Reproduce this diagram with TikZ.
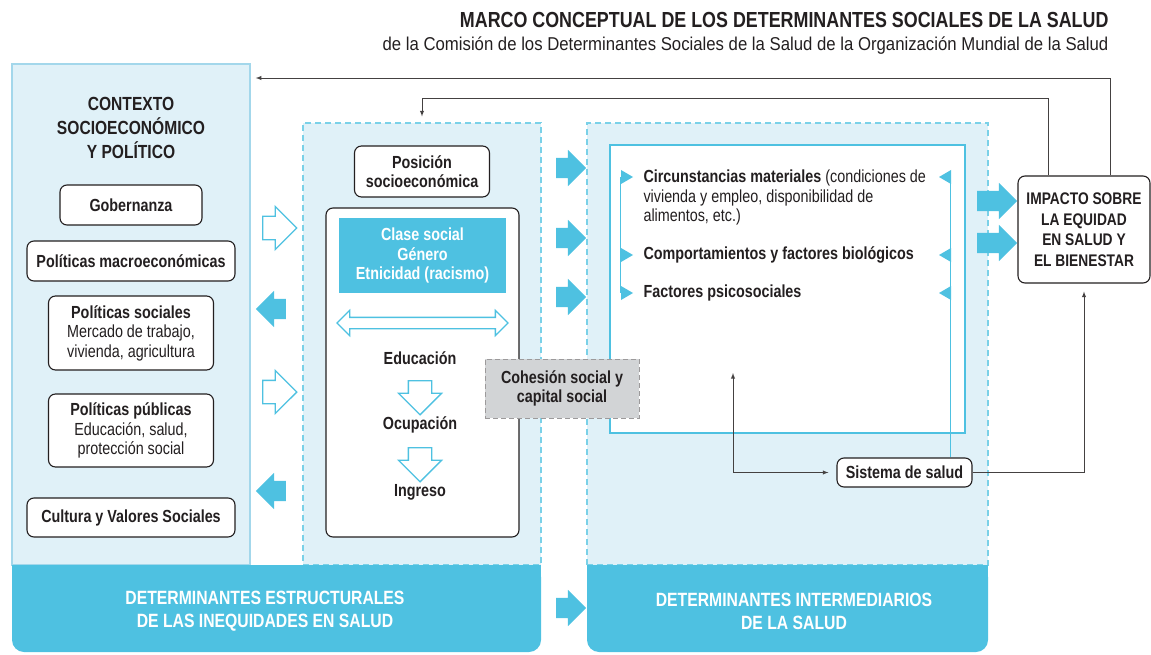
\documentclass[tikz,border=0pt]{standalone}
\usepackage{fontspec}
\setmainfont[FakeStretch=0.82]{Liberation Sans}
\newfontfamily\ancho[FakeStretch=0.9]{Liberation Sans}
\usetikzlibrary{shapes.arrows,positioning}
\definecolor{azul}{HTML}{4EC1E1}
\definecolor{celeste}{HTML}{E0F1F8}
\definecolor{bordeazul}{HTML}{A3D7EB}
\definecolor{gris}{HTML}{D2D4D6}
\definecolor{tinta}{HTML}{231F20}
\begin{document}
\begin{tikzpicture}[x=1pt,y=-1pt,
	every node/.append style={text=tinta},
	normal/.style={font=\fontsize{17.5}{19.5}\selectfont},
	negrita/.style={font=\fontsize{17.5}{19.5}\selectfont\bfseries},
	caja/.style={draw=tinta,fill=white,rounded corners=7pt,line width=1.1pt,align=center,inner sep=0pt},
	panel/.style={fill=celeste,draw=azul!75,dash pattern=on 6pt off 4pt,line width=1.1pt,inner sep=0pt},
	llena/.style={single arrow,fill=azul,inner xsep=0pt,inner ysep=10pt,minimum height=30,single arrow head extend=8},
	hueca/.style={single arrow,draw=azul,fill=white,line width=1.3pt,inner xsep=0pt,inner ysep=11pt,minimum height=34,single arrow head extend=10},
	baja/.style={single arrow,shape border rotate=270,draw=azul,fill=white,line width=1.3pt,inner xsep=11pt,inner ysep=0pt,minimum height=34,single arrow head extend=10},
	linea/.style={draw=tinta!85,line width=0.9pt},
	banda/.style={text=white,font=\fontsize{19.2}{23}\selectfont\bfseries,align=center}]
	\useasboundingbox (0,0) rectangle (1151,655);
	% Titulo
	\node[anchor=east,font=\fontsize{21.8}{24}\selectfont\bfseries] (titulo) at (1112,20) {MARCO CONCEPTUAL DE LOS DETERMINANTES SOCIALES DE LA SALUD};
	\node[anchor=east,font=\fontsize{18.6}{20}\ancho] (subtitulo) at (1112,46) {de la Comisión de los Determinantes Sociales de la Salud de la Organización Mundial de la Salud};
	% Paneles de fondo
	\node[fill=celeste,draw=bordeazul,line width=1.5pt,minimum width=238,minimum height=501,inner sep=0pt] (contexto) at (131,314.5) {};
	\node[panel,minimum width=238,minimum height=442] (estruct) at (422,344) {};
	\node[panel,minimum width=401,minimum height=442] (intermed) at (787.5,344) {};
	% Bandas inferiores
	\fill[azul,rounded corners=12pt] (12,565) rectangle (541,652);
	\fill[azul] (12,565) rectangle (541,600);
	\fill[azul,rounded corners=12pt] (587,565) rectangle (988,652);
	\fill[azul] (587,565) rectangle (988,600);
	\node[banda] (estructurales) at (265,611) {DETERMINANTES ESTRUCTURALES\\DE LAS INEQUIDADES EN SALUD};
	\node[banda] (intermediarios) at (794,611) {DETERMINANTES INTERMEDIARIOS\\DE LA SALUD};
	\node[llena] (paso) at (566,608) {};
	% Contexto socioeconomico y politico
	\node[font=\fontsize{19}{24}\selectfont\bfseries,align=center] (contextotit) at (131,128) {CONTEXTO\\SOCIOECONÓMICO\\Y POLÍTICO};
	\node[caja,negrita,minimum width=142,minimum height=40] (gobernanza) at (131,205) {Gobernanza};
	\node[caja,negrita,minimum width=208,minimum height=40] (macro) at (131,261) {Políticas macroeconómicas};
	\node[caja,normal,minimum width=165,minimum height=74] (sociales) at (131,333) {\textbf{Políticas sociales}\\Mercado de trabajo,\\vivienda, agricultura};
	\node[caja,normal,minimum width=165,minimum height=73] (publicas) at (131,430.5) {\textbf{Políticas públicas}\\Educación, salud,\\protección social};
	\node[caja,negrita,minimum width=208,minimum height=39] (cultura) at (131,517.5) {Cultura y Valores Sociales};
	% Flechas entre contexto y posicion
	\node[hueca] (ida1) at (274,228) {};
	\node[llena,shape border rotate=180] (vuelta1) at (276,309) {};
	\node[hueca] (ida2) at (274,392) {};
	\node[llena,shape border rotate=180] (vuelta2) at (276,491) {};
	% Posicion socioeconomica
	\node[caja,negrita,minimum width=135,minimum height=51] (posicion) at (422,171.5) {Posición\\socioeconómica};
	\node[caja,minimum width=193,minimum height=329] (grupo) at (422.5,372.5) {};
	\node[fill=azul,negrita,text=white,align=center,inner sep=0pt,minimum width=167,minimum height=75] (clase) at (422.5,255.5) {Clase social\\Género\\Etnicidad (racismo)};
	\node[double arrow,draw=azul,fill=white,line width=1.3pt,inner xsep=0pt,inner ysep=5pt,minimum height=171,double arrow head extend=7] (ejes) at (422.5,323) {};
	\node[negrita] (educacion) at (420,358) {Educación};
	\node[baja] (baja1) at (420,392) {};
	\node[negrita] (ocupacion) at (420,425) {Ocupación};
	\node[baja] (baja2) at (420,459) {};
	\node[negrita] (ingreso) at (420,492) {Ingreso};
	% Flechas hacia determinantes intermediarios
	\node[llena] (hacia1) at (566,168) {};
	\node[llena] (hacia2) at (566,238) {};
	\node[llena] (hacia3) at (566,297) {};
	% Circunstancias
	\node[draw=azul,line width=1.6pt,fill=white,inner sep=0pt,minimum width=355,minimum height=288] (circ) at (787.5,289) {};
	\node[fill=gris,draw=tinta!45,dash pattern=on 5pt off 3pt,line width=1pt,negrita,align=center,inner sep=0pt,minimum width=154,minimum height=59] (cohesion) at (562,388.5) {Cohesión social y\\capital social};
	\node[normal,anchor=west,align=left] (materiales) at (640,197.5) {\textbf{Circunstancias materiales} (condiciones de\\vivienda y empleo, disponibilidad de\\alimentos, etc.)};
	\node[negrita,anchor=west] (comportam) at (640,255) {Comportamientos y factores biológicos};
	\node[negrita,anchor=west] (psico) at (640,293) {Factores psicosociales};
	\node[caja,negrita,minimum width=135,minimum height=29] (sistema) at (904.5,472.5) {Sistema de salud};
	\coordinate (izq) at (620,177);
	\coordinate (der) at (950,177);
	\draw[azul,line width=1pt] (izq) -- (620,293);
	\draw[azul,line width=1pt] (der) -- (sistema.north -| der);
	\foreach \y in {177,255,293} {
		\fill[azul] (621,\y-7) -- ++(12,7) -- ++(-12,7) -- cycle;
		\fill[azul] (951,\y-7) -- ++(-12,7) -- ++(12,7) -- cycle;
	}
	% Impacto
	\node[caja,font=\fontsize{16.8}{20.5}\selectfont\bfseries,minimum width=132,minimum height=107] (impacto) at (1084,229.5) {IMPACTO SOBRE\\LA EQUIDAD\\EN SALUD Y\\EL BIENESTAR};
	\node[llena,minimum height=40] (efecto1) at (992,201) {};
	\node[llena,minimum height=40] (efecto2) at (992,243) {};
	% Retroalimentacion
	\coordinate (retro1) at (1110,78);
	\coordinate (retro2) at (1048,98);
	\coordinate (salud) at (733,373);
	\draw[linea,-latex] (impacto.north -| retro1) |- ([xshift=5pt]contexto.east |- retro1);
	\draw[linea,-latex,shorten >=6pt] (impacto.north -| retro2) |- (estruct.north |- retro2) -- (estruct.north);
	\draw[linea,-latex,shorten >=8pt] (sistema.east) -| (impacto.south);
	\draw[linea,latex-latex,shorten >=8pt] (salud) |- (sistema.west);
\end{tikzpicture}
\end{document}
